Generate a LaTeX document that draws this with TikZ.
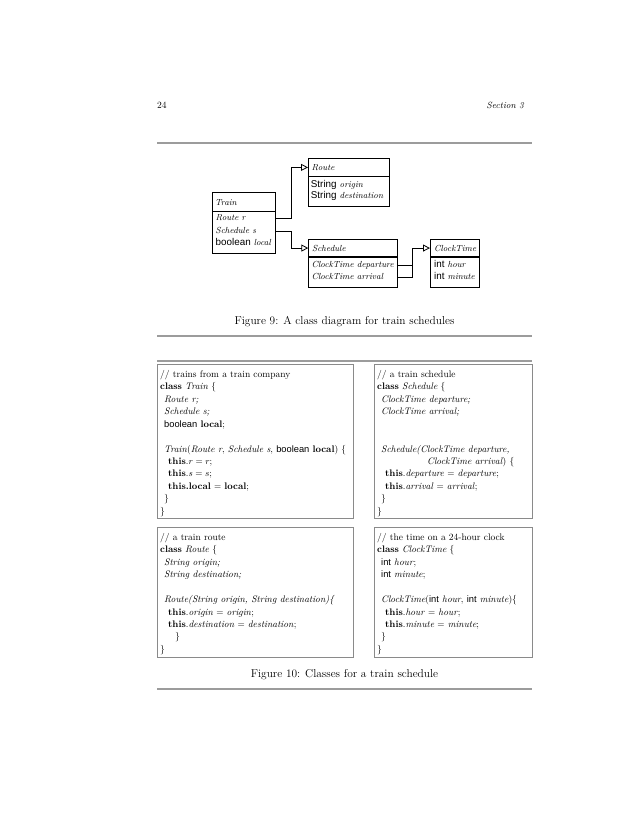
\documentclass[tikz,border=0pt]{standalone}
\usepackage{fontspec}
\newfontfamily\dsf[Scale=1.12]{Liberation Sans}
\newfontfamily\csfam[Scale=0.98]{Liberation Sans}
\newcommand\csf[1]{{\csfam #1}}
\newcommand\dsft[1]{{\dsf #1}}
\usetikzlibrary{arrows.meta}
\definecolor{rulegray}{HTML}{9C9C9C}
\definecolor{boxgray}{HTML}{8A8A8A}
\tikzset{
  rulel/.style={draw=rulegray, line width=1.3pt},
  cls/.style={draw=black, line width=0.8pt, inner sep=0pt, anchor=north west},
  lbl/.style={anchor=base west, inner sep=0pt, font=\fontsize{8.8}{10}\selectfont},
  conn/.style={draw=black, line width=0.8pt, -{Triangle[open, length=7pt, width=7pt]}},
  plain/.style={draw=black, line width=0.8pt},
  codebox/.style={draw=boxgray, line width=0.9pt, inner sep=0pt, anchor=north west},
  codetxt/.style={anchor=base west, inner sep=0pt, font=\fontsize{9.5}{11}\selectfont},
  caption/.style={anchor=base, inner sep=0pt, font=\fontsize{11.4}{13}\selectfont},
}
\newcommand\codeblock[3]{%
  \foreach \k/\xx/\ct in {#3} {\node[codetxt] (#1\k) at (\xx, #2+12.45*\k) {\ct};}}
\begin{document}
\begin{tikzpicture}[x=1pt,y=-1pt]
\useasboundingbox (0,0) rectangle (638,826);
\fill[white] (0,0) rectangle (638,826);
% header
\node[anchor=base west, inner sep=0pt, font=\fontsize{9.5}{11}\selectfont] (pnum) at (157,109) {24};
\node[anchor=base east, inner sep=0pt, font=\fontsize{9}{11}\selectfont\itshape] (sect) at (524,109) {Section 3};
\draw[rulel] (157,143) -- (532,143);
% class diagram
\node[cls, minimum width=80.7pt, minimum height=17.4pt] (routeH) at (308,158.3) {};
\node[cls, minimum width=80.7pt, minimum height=29.3pt] (routeB) at (routeH.south west) {};
\node[cls, minimum width=62.4pt, minimum height=18.4pt] (trainH) at (212.3,192.3) {};
\node[cls, minimum width=62.4pt, minimum height=41pt] (trainB) at (trainH.south west) {};
\node[cls, minimum width=89pt, minimum height=16.7pt] (schedH) at (308.3,239.3) {};
\node[cls, minimum width=89pt, minimum height=29.7pt] (schedB) at (schedH.south west) {};
\node[cls, minimum width=49.3pt, minimum height=16.7pt] (clockH) at (430,239.3) {};
\node[cls, minimum width=49.3pt, minimum height=29.7pt] (clockB) at (clockH.south west) {};
% labels
\node[lbl] (routeT) at (311.5,170.3) {\textit{Route}};
\node[lbl] (routeL1) at (310.7,187.2) {\dsft{String} \textit{origin}};
\node[lbl] (routeL2) at (310.7,198.9) {\dsft{String} \textit{destination}};
\node[lbl] (trainT) at (215,205.5) {\textit{Train}};
\node[lbl] (trainL1) at (215.5,220.9) {\textit{Route r}};
\node[lbl] (trainL2) at (215.5,233.2) {\textit{Schedule s}};
\node[lbl] (trainL3) at (215.5,245.5) {\dsft{boolean} \textit{local}};
\node[lbl] (schedT) at (312,251.5) {\textit{Schedule}};
\node[lbl] (schedL1) at (311.5,267.5) {\textit{ClockTime departure}};
\node[lbl] (schedL2) at (311.5,279.5) {\textit{ClockTime arrival}};
\node[lbl] (clockT) at (434,251.5) {\textit{ClockTime}};
\node[lbl] (clockL1) at (434,267.5) {\dsft{int} \textit{hour}};
\node[lbl] (clockL2) at (434,279.5) {\dsft{int} \textit{minute}};
% connectors
\coordinate (t1) at (trainB.east |- trainL1.mid);
\coordinate (t2) at (trainB.east |- trainL2.mid);
\coordinate (s1) at (schedB.east |- schedL1.mid);
\coordinate (s2) at (schedB.east |- schedL2.mid);
\coordinate (j1) at (412.7,0 |- s1);
\draw[conn] (t1) -- ++(16.3,0) |- (routeH.west);
\draw[conn] (t2) -- ++(16.3,0) |- (schedH.west);
\draw[conn] (s1) -- (j1) |- (clockH.west);
\draw[plain] (s2) -| (j1);
% caption 9
\node[caption] (cap9) at (344.5,324.5) {Figure 9: A class diagram for train schedules};
\draw[rulel] (157,336) -- (532,336);
\draw[rulel] (157,361) -- (532,361);
% code boxes
\node[codebox, minimum width=196.3pt, minimum height=154pt] (boxA) at (157,364) {};
\node[codebox, minimum width=158.3pt, minimum height=154pt] (boxB) at (374,364) {};
\node[codebox, minimum width=196.3pt, minimum height=130pt] (boxC) at (157,527) {};
\node[codebox, minimum width=158.3pt, minimum height=130pt] (boxD) at (374,527) {};
\codeblock{A}{377.3}{0/160/{// trains from a train company},
  1/160/{\textbf{class} \textit{Train} \{},
  2/164/{\textit{Route r;}},
  3/164/{\textit{Schedule s;}},
  4/164/{\csf{boolean} \textbf{local};},
  6/164/{\textit{Train}(\textit{Route r}, \textit{Schedule s}, \csf{boolean} \textbf{local}) \{},
  7/168/{\textbf{this}.$r = r$;},
  8/168/{\textbf{this}.$s = s$;},
  9/168/{\textbf{this.local} $=$ \textbf{local};},
  10/164/{\}},
  11/160/{\}}}
\codeblock{B}{377.3}{0/377/{// a train schedule},
  1/377/{\textbf{class} \textit{Schedule} \{},
  2/381/{\textit{ClockTime departure;}},
  3/381/{\textit{ClockTime arrival;}},
  6/381/{\textit{Schedule(ClockTime departure,}},
  7/427/{\textit{ClockTime arrival}) \{},
  8/385/{\textbf{this}.\textit{departure} $=$ \textit{departure};},
  9/385/{\textbf{this}.\textit{arrival} $=$ \textit{arrival};},
  10/381/{\}},
  11/377/{\}}}
\codeblock{C}{540.3}{0/160/{// a train route},
  1/160/{\textbf{class} \textit{Route} \{},
  2/164/{\textit{String origin;}},
  3/164/{\textit{String destination;}},
  5/164/{\textit{Route(String origin, String destination)\{}},
  6/168/{\textbf{this}.\textit{origin} $=$ \textit{origin};},
  7/168/{\textbf{this}.\textit{destination} $=$ \textit{destination};},
  8/175/{\}},
  9/160/{\}}}
\codeblock{D}{540.3}{0/377/{// the time on a 24-hour clock},
  1/377/{\textbf{class} \textit{ClockTime} \{},
  2/381/{\csf{int} \textit{hour};},
  3/381/{\csf{int} \textit{minute};},
  5/381/{\textit{ClockTime}(\csf{int} \textit{hour}, \csf{int} \textit{minute})\{},
  6/385/{\textbf{this}.\textit{hour} $=$ \textit{hour};},
  7/385/{\textbf{this}.\textit{minute} $=$ \textit{minute};},
  8/381/{\}},
  9/377/{\}}}
% caption 10
\node[caption] (cap10) at (344.5,677) {Figure 10: Classes for a train schedule};
\draw[rulel] (157,689) -- (532,689);
\end{tikzpicture}
\end{document}
